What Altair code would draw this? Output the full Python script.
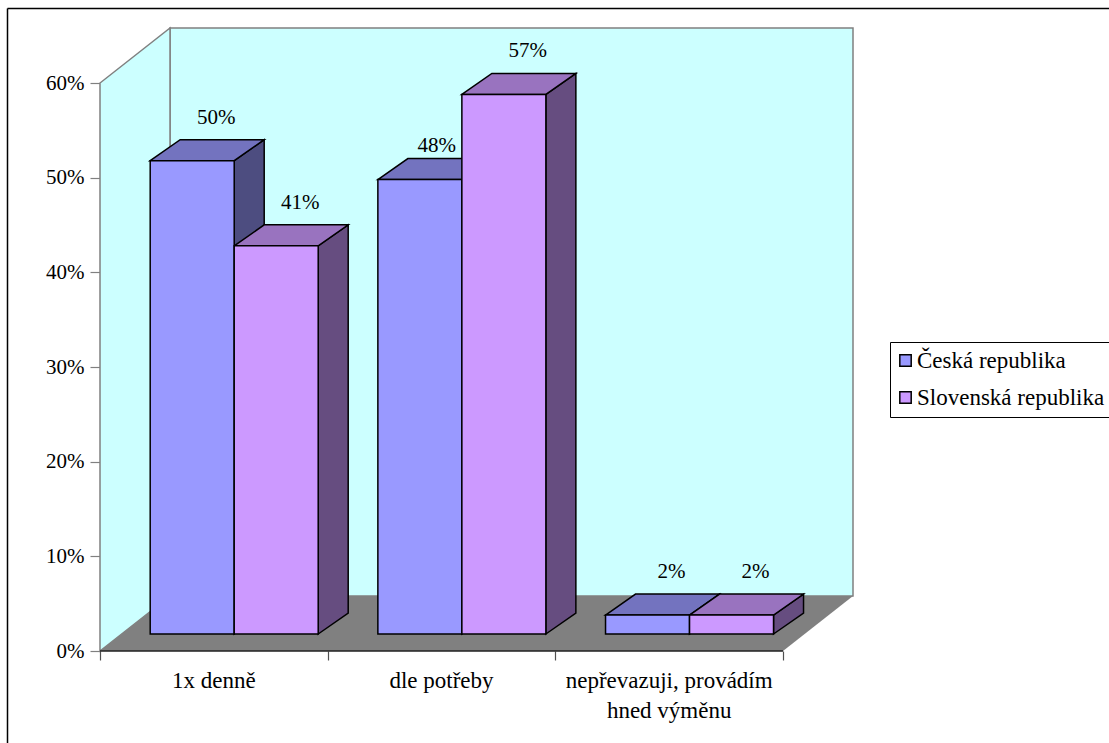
import altair as alt
import pandas as pd

# Survey answers, in percent
categories = ["1x denně", "dle potřeby", "nepřevazuji, provádím\nhned výměnu"]
series_names = ["Česká republika", "Slovenská republika"]
ceska = [50, 48, 2]
slovenska = [41, 57, 2]

FACE = ["#9999FF", "#CC99FF"]
TOP = ["#7373BF", "#9973BF"]
SIDE = ["#4D4D80", "#664D80"]
FONT = "Liberation Serif"
FS_TEXT = 23
FS_NUM = 21

# Scale units: one category step horizontally, one percent vertically
W, H = 1109, 743
PX_X, PX_Y = 683 / 3, 568 / 60
X0, Y0 = 100, 651
xs = alt.Scale(domain=[-X0 / PX_X, (W - X0) / PX_X], range=[0, W], nice=False, zero=False)
ys = alt.Scale(domain=[-(H - Y0) / PX_Y, Y0 / PX_Y], range=[H, 0], nice=False, zero=False)

# Oblique projection of the box and of each column
BOX_DX, BOX_DY = 70 / PX_X, 55 / PX_Y
BAR_DX, BAR_DY = 30 / PX_X, 21 / PX_Y
BAR_BASE = 17 / PX_Y
BAR_SHIFT = 0.2205
BAR_W = 84 / PX_X
YMAX = 60


def parallelogram(key, left, right, level, dx, dy):
    """Horizontal face seen obliquely, as an area over x."""
    return [
        dict(key=key, x=left, y=level, y2=level),
        dict(key=key, x=left + dx, y=level + dy, y2=level),
        dict(key=key, x=right, y=level + dy, y2=level),
        dict(key=key, x=right + dx, y=level + dy, y2=level + dy),
    ]


fronts, sides, tops, labels = [], [], [], []
# Small per-label nudge (x, y) keeping the 48% label clear of the neighbouring column
nudges = {(1, 0): (-7, 9)}
for s, (name, values) in enumerate(zip(series_names, [ceska, slovenska])):
    for c, v in enumerate(values):
        left = c + BAR_SHIFT + s * BAR_W
        right = left + BAR_W
        top = BAR_BASE + v
        key = f"{s}-{c}"
        fronts.append(dict(series=name, x=left, x2=right, y=BAR_BASE, y2=top))
        sides += [
            dict(key=key, s=s, x=right, y=BAR_BASE, y2=top),
            dict(key=key, s=s, x=right + BAR_DX, y=BAR_BASE + BAR_DY, y2=top + BAR_DY),
        ]
        tops += [dict(r, s=s) for r in parallelogram(key, left, right, top, BAR_DX, BAR_DY)]
        nx, ny = nudges.get((c, s), (0, 0))
        labels.append(dict(
            x=(left + right) / 2 + (24 + nx) / PX_X,
            y=top + (43 - ny) / PX_Y,
            text=f"{v}%",
        ))

y_axis = alt.Axis(
    values=list(range(0, YMAX + 1, 10)), labelExpr="datum.value + '%'", offset=-X0, domain=False,
    grid=False, tickSize=10, tickColor="#808080", tickWidth=1.2, labelPadding=6,
    labelFont=FONT, labelFontSize=FS_NUM, labelColor="black",
)
x_axis = alt.Axis(
    values=[0, 1, 2, 3], labels=False, offset=-(H - Y0), domain=False, grid=False,
    tickSize=9, tickColor="#505050", tickWidth=1.2,
)
X = alt.X("x:Q", scale=xs, title=None, axis=x_axis)
Y = alt.Y("y:Q", scale=ys, title=None, stack=None, axis=y_axis)

# Back wall
wall = alt.Chart(pd.DataFrame([dict(x=BOX_DX, x2=BOX_DX + 3, y=BOX_DY, y2=BOX_DY + YMAX)])).mark_rect(
    fill="#CCFFFF", stroke="#808080", strokeWidth=1.5
).encode(X, x2="x2:Q", y=Y, y2="y2:Q")

left_wall = alt.Chart(pd.DataFrame([
    dict(x=0, y=0, y2=YMAX), dict(x=BOX_DX, y=BOX_DY, y2=BOX_DY + YMAX),
])).mark_area(fill="#CCFFFF", stroke="#808080", strokeWidth=1.5, orient="vertical").encode(
    X, Y, y2="y2:Q"
)

floor = alt.Chart(pd.DataFrame(parallelogram("floor", 0, 3, 0, BOX_DX, BOX_DY))).mark_area(
    fill="#808080", orient="vertical"
).encode(X, Y, y2="y2:Q")

front_edge = alt.Chart(pd.DataFrame([dict(x=0, x2=3, y=0)])).mark_rule(
    color="#202020", strokeWidth=1.5
).encode(X, x2="x2:Q", y=Y)

side_faces = alt.Chart(pd.DataFrame(sides)).mark_area(
    stroke="black", strokeWidth=1.5, orient="vertical"
).encode(
    X, Y, y2="y2:Q", detail="key:N",
    fill=alt.Fill("s:O", scale=alt.Scale(domain=[0, 1], range=SIDE), legend=None),
)
top_faces = alt.Chart(pd.DataFrame(tops)).mark_area(
    stroke="black", strokeWidth=1.5, orient="vertical"
).encode(
    X, Y, y2="y2:Q", detail="key:N",
    fill=alt.Fill("s:O", scale=alt.Scale(domain=[0, 1], range=TOP), legend=None),
)
front_faces = alt.Chart(pd.DataFrame(fronts)).mark_bar(stroke="black", strokeWidth=1.5).encode(
    X, x2="x2:Q", y=Y, y2="y2:Q",
    color=alt.Color(
        "series:N",
        scale=alt.Scale(domain=series_names, range=FACE),
        legend=alt.Legend(
            title=None, orient="none", legendX=890, legendY=342,
            fillColor="white", strokeColor="black", padding=7,
            symbolType="square", symbolSize=130, symbolStrokeColor="black", symbolStrokeWidth=1.5,
            symbolOffset=-3,
            labelFont=FONT, labelFontSize=FS_TEXT, labelColor="black", labelLimit=300,
            labelOffset=0, rowPadding=13,
        ),
    ),
)

value_labels = alt.Chart(pd.DataFrame(labels)).mark_text(
    font=FONT, fontSize=FS_NUM, color="black", align="center", baseline="middle"
).encode(X, Y, text="text:N")

category_labels = alt.Chart(pd.DataFrame([
    dict(x=i + 0.5, y=-37 / PX_Y, text=c) for i, c in enumerate(categories)
])).mark_text(
    font=FONT, fontSize=FS_TEXT, color="black", align="center", baseline="alphabetic",
    lineBreak="\n", lineHeight=30,
).encode(X, Y, text="text:N")

# Outer frame runs off the right and bottom edges of the page
frame_left = alt.Chart().mark_rule(color="black", strokeWidth=1.5).encode(
    x=alt.value(7.5), y=alt.value(8.5), y2=alt.value(H)
)
frame_top = alt.Chart().mark_rule(color="black", strokeWidth=1.5).encode(
    y=alt.value(8.5), x=alt.value(7.5), x2=alt.value(W)
)

chart = alt.layer(
    wall, left_wall, floor, front_edge, side_faces, top_faces, front_faces,
    value_labels, category_labels, frame_left, frame_top,
).resolve_scale(fill="independent", color="independent").properties(
    width=W, height=H, padding=0, autosize=alt.AutoSizeParams(type="none"), background="white",
).configure_view(stroke=None)

chart.save("out.html", embed_options={"renderer": "svg", "actions": False})
